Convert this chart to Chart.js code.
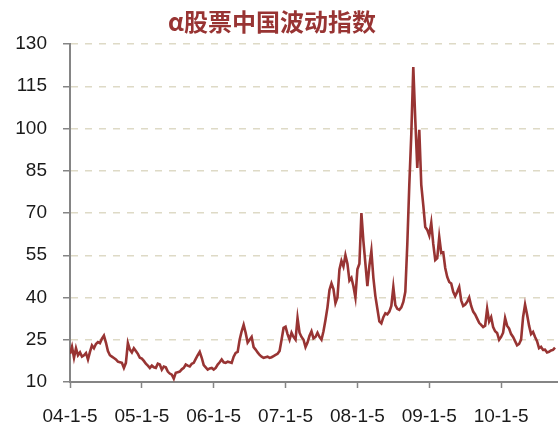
<!DOCTYPE html>
<html>
<head>
<meta charset="utf-8">
<title>α股票中国波动指数</title>
<script src="https://cdn.jsdelivr.net/npm/chart.js@4/dist/chart.umd.min.js"></script>
<style>
  body { margin: 0; background: #fff; }
  #wrap { width: 559px; height: 432px; }
</style>
</head>
<body>
<div id="wrap"><canvas id="chart" width="559" height="432"></canvas></div>
<script>
// one value roughly every 10 days, 36 per year, starting 04-1-5
const perYear = 36;

const tickLabels = ["04-1-5", "05-1-5", "06-1-5", "07-1-5", "08-1-5", "09-1-5", "10-1-5"];

const yTicks = [10, 25, 40, 55, 70, 85, 100, 115, 130];

const volIndex = [
  20, 22.5, 18.6, 22, 19.5, 20.5, 19, 19.5, 20.3, 18,
  20.7, 23, 22, 23.5, 24.2, 23.8, 25.4, 26.5, 24, 21,
  19.5, 19, 18.5, 18, 17.2, 17, 16.8, 15, 16.8, 23.8,
  21.5, 20.5, 22, 21, 20, 18.6, 18.3, 17.5, 16.5, 15.8,
  15, 15.8, 15.2, 15, 16.5, 16.2, 14.4, 15.5, 15.2, 13.7,
  13, 12.6, 11.2, 13.3, 13.5, 13.7, 14.5, 15, 16.2, 15.8,
  15.5, 16.5, 16.8, 18.2, 19.5, 20.7, 18.6, 16, 15.2, 14.4,
  14.8, 15, 14.4, 15, 16.2, 17, 18, 17, 16.8, 17.2,
  17, 16.8, 19, 20.3, 20.7, 25, 28, 30.3, 27.5, 24,
  25, 26, 22.4, 21.5, 20.5, 19.6, 19, 18.6, 18.8, 19,
  18.6, 18.8, 19.2, 19.6, 20, 21, 25, 29.2, 29.6, 27,
  25, 27.5, 26, 25, 32.7, 27.5, 26, 25, 22.4, 24,
  26.4, 28, 25.5, 26, 27.5, 26, 25, 28, 32, 36.5,
  42.7, 45, 43, 38, 40, 50, 53, 51, 55, 52,
  46, 47, 44, 40, 50, 52, 70, 60, 52, 44,
  51.3, 56.5, 47, 40.5, 36, 31.5, 30.8, 33, 34.4, 34,
  35, 37, 43.7, 37.3, 36, 35.6, 36.5, 38.4, 42, 59,
  80, 98, 121.8, 103, 86, 99.5, 80, 72.8, 65, 64,
  62, 66.5, 59, 53.3, 54, 61.5, 55.8, 56, 50.5, 47.3,
  45.5, 45, 42, 40.5, 42, 43.7, 39, 37, 37.5, 38.5,
  40, 37, 35, 34, 32.5, 31, 30.3, 29.5, 30, 36,
  31.5, 33, 29.5, 28, 27.4, 25, 26, 27.5, 32.7, 30,
  29, 27, 26, 24.5, 23, 23.5, 25, 33, 37.5, 34,
  30, 27, 27.8, 26, 24.5, 22, 22.5, 21.4, 21.5, 20.5,
  20.7, 21.2, 21.4, 22.2
];

const red = "#983433";
const axisGray = "#858585";
const gridBeige = "#DEDAC6";

const points = volIndex.map((v, i) => ({ x: i, y: v }));

// title drawn at the same spot as in the source picture
const titlePlugin = {
  id: "cnTitle",
  afterDraw(chart) {
    const ctx = chart.ctx;
    ctx.save();
    ctx.fillStyle = red;
    ctx.font = "bold 24px 'Noto Sans CJK SC'";
    ctx.textAlign = "center";
    ctx.textBaseline = "middle";
    ctx.fillText("α股票中国波动指数", 272, 22);
    ctx.restore();
  },
};

new Chart(document.getElementById("chart"), {
  type: "line",
  data: {
    datasets: [
      {
        data: points,
        borderColor: red,
        borderWidth: 2.6,
        pointRadius: 0,
        tension: 0,
        fill: false,
      },
    ],
  },
  options: {
    responsive: false,
    animation: false,
    layout: { padding: { top: 44, right: 2, left: 0, bottom: 0 } },
    plugins: {
      legend: { display: false },
      tooltip: { enabled: false },
    },
    scales: {
      x: {
        type: "linear",
        min: 0,
        max: 244,
        afterBuildTicks: (scale) => {
          scale.ticks = tickLabels.map((_, k) => ({ value: k * perYear }));
        },
        afterFit: (scale) => {
          scale.height = 50;
        },
        ticks: {
          autoSkip: false,
          maxRotation: 0,
          padding: 17,
          color: "#1a1a1a",
          font: { family: "'Liberation Sans'", size: 19 },
          callback: (v) => tickLabels[Math.round(v / perYear)],
        },
        grid: {
          display: true,
          drawOnChartArea: false,
          drawTicks: true,
          tickLength: 6,
          tickColor: axisGray,
          tickWidth: 1.5,
        },
        border: { display: true, color: axisGray, width: 2 },
      },
      y: {
        min: 10,
        max: 130,
        afterBuildTicks: (scale) => {
          scale.ticks = yTicks.map((v) => ({ value: v }));
        },
        afterFit: (scale) => {
          scale.width = 70;
        },
        ticks: {
          padding: 16,
          color: "#1a1a1a",
          font: { family: "'Liberation Sans'", size: 19 },
        },
        grid: {
          color: gridBeige,
          lineWidth: 1.5,
          drawTicks: true,
          tickLength: 7,
          tickColor: axisGray,
          tickWidth: 1.5,
          tickBorderDash: [],
        },
        border: { display: true, color: axisGray, width: 2, dash: [7, 7] },
      },
    },
  },
  plugins: [titlePlugin],
});
</script>
</body>
</html>
